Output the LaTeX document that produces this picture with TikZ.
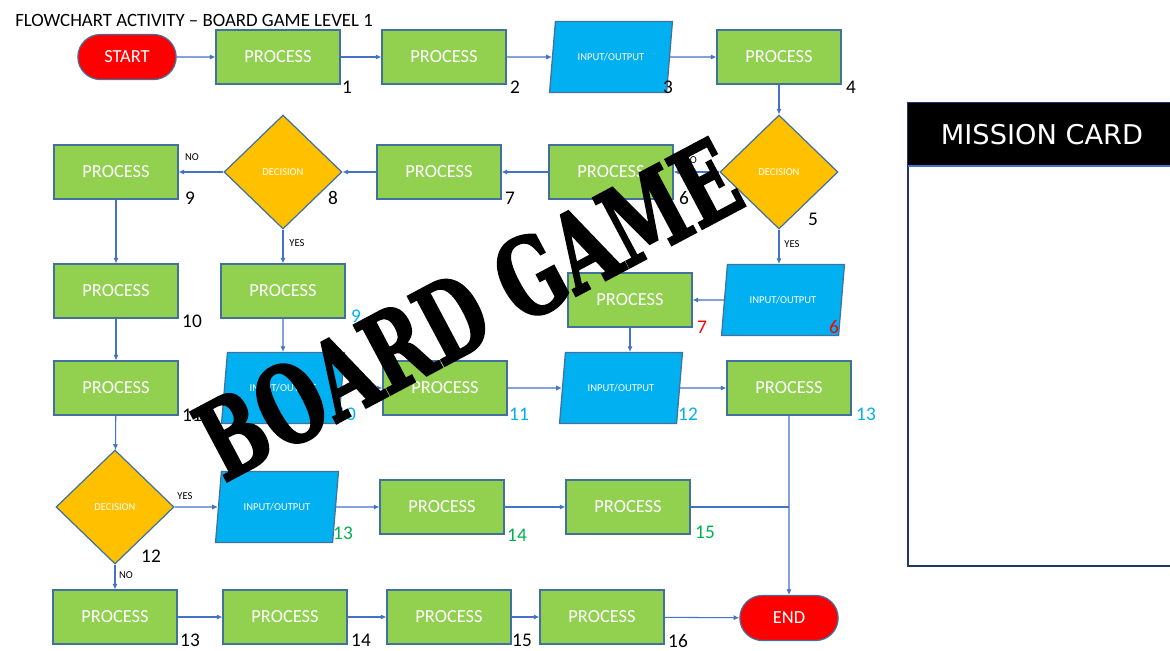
\documentclass[tikz,border=0pt]{standalone}
\usepackage{fontspec}
\setmainfont{Carlito}
\newfontfamily\stampfont[FakeBold=2.5]{DejaVu Serif}
\newfontfamily\cardfont{DejaVu Sans}
\usetikzlibrary{shapes.geometric,shapes.misc,arrows.meta}
\definecolor{ProcessGreen}{HTML}{92D050}
\definecolor{IOBlue}{HTML}{00B0F0}
\definecolor{DecisionGold}{HTML}{FFC000}
\definecolor{TerminalRed}{HTML}{FF0000}
\definecolor{ShapeEdge}{HTML}{41719C}
\definecolor{FlowLine}{HTML}{4472C4}
\definecolor{CardEdge}{HTML}{1F3864}
\definecolor{StepCyan}{HTML}{00B0F0}
\definecolor{StepGreen}{HTML}{00B050}
\definecolor{StepRed}{HTML}{FF0000}

\begin{document}
\begin{tikzpicture}[
    x=0.02cm, y=-0.02cm,
    processbox/.style={rectangle, draw=ShapeEdge, fill=ProcessGreen, line width=0.7pt, minimum width=2.48cm, minimum height=1.08cm, font=\fontsize{10.5}{12}\selectfont, text=white},
    iobox/.style={trapezium, trapezium left angle=78, trapezium right angle=102, trapezium stretches=true, draw=ShapeEdge, fill=IOBlue, line width=0.7pt, minimum width=2.46cm, minimum height=1.42cm, font=\fontsize{6}{7}\selectfont, text=white},
    decisionbox/.style={diamond, draw=ShapeEdge, fill=DecisionGold, line width=0.7pt, minimum width=2.36cm, minimum height=2.28cm, inner sep=0pt, font=\fontsize{6}{7}\selectfont, text=white},
    terminalbox/.style={rounded rectangle, draw=ShapeEdge, fill=TerminalRed, line width=0.7pt, minimum width=2.2cm, minimum height=0.9cm, font=\fontsize{10.5}{12}\selectfont, text=white},
    flowline/.style={draw=FlowLine, line width=0.6pt, -{Latex[length=3.2pt,width=3pt]}},
    plainline/.style={draw=FlowLine, line width=0.6pt},
    stepnum/.style={font=\fontsize{11}{13}\selectfont, text=black, inner sep=0pt},
    branchnote/.style={font=\fontsize{6}{7}\selectfont, text=black, inner sep=0pt},
    cardtitle/.style={font=\cardfont\fontsize{15.5}{17}\selectfont, text=white, inner sep=0pt},
    stamptext/.style={font=\stampfont\bfseries\fontsize{42}{42}\selectfont, text=black, inner sep=0pt, rotate=28}
]

\useasboundingbox (0,0) rectangle (1170,650);
\clip (0,0) rectangle (1170,650);
\fill[white] (0,0) rectangle (1170,650);

\node[anchor=west, font=\fontsize{10.7}{12}\selectfont, inner sep=0pt] (title) at (15,20) {FLOWCHART ACTIVITY – BOARD GAME LEVEL 1};

% row 1
\node[terminalbox] (start) at (127,57) {START};
\node[processbox] (p1) at (278,57) {PROCESS};
\node[processbox] (p2) at (444,57) {PROCESS};
\node[iobox] (io3) at (611,57) {INPUT/OUTPUT};
\node[processbox] (p4) at (779,57) {PROCESS};

% row 2
\node[decisionbox] (d5) at (779,172) {DECISION};
\node[processbox] (p6) at (611,172) {PROCESS};
\node[processbox] (p7) at (439,172) {PROCESS};
\node[decisionbox] (d8) at (283,172) {DECISION};
\node[processbox] (p9) at (116,172) {PROCESS};

% left column
\node[processbox] (p10) at (116,291) {PROCESS};
\node[processbox] (p11) at (116,388) {PROCESS};
\node[decisionbox] (d12) at (115,507) {DECISION};

% red path
\node[iobox] (redio6) at (783,300) {INPUT/OUTPUT};
\node[processbox] (redp7) at (630,300) {PROCESS};

% cyan path
\node[processbox] (cyanp9) at (283,291) {PROCESS};
\node[iobox] (cyanio10) at (283,388) {INPUT/OUTPUT};
\node[processbox] (cyanp11) at (445,388) {PROCESS};
\node[iobox] (cyanio12) at (621,388) {INPUT/OUTPUT};
\node[processbox] (cyanp13) at (789,388) {PROCESS};

% green path
\node[iobox] (greenio13) at (277,507) {INPUT/OUTPUT};
\node[processbox] (greenp14) at (442,507) {PROCESS};
\node[processbox] (greenp15) at (628,507) {PROCESS};

% bottom row
\node[processbox] (p13) at (115,617) {PROCESS};
\node[processbox] (p14) at (285,617) {PROCESS};
\node[processbox] (p15) at (449,617) {PROCESS};
\node[processbox] (p16) at (602,617) {PROCESS};
\node[terminalbox] (finish) at (789,618) {END};

\draw[flowline] (start) -- (p1);
\draw[flowline] (p1) -- (p2);
\draw[flowline] (p2) -- (io3);
\draw[flowline] (io3) -- (p4);
\draw[flowline] (p4) -- (d5);
\draw[flowline] (d5) -- (p6);
\draw[flowline] (p6) -- (p7);
\draw[flowline] (p7) -- (d8);
\draw[flowline] (d8) -- (p9);
\draw[flowline] (d8) -- (cyanp9);
\draw[flowline] (d5.south) -- (d5.south |- redio6.north);
\draw[flowline] (redio6) -- (redp7);
\draw[flowline] (redp7.south) -- (redp7.south |- cyanio12.north);
\draw[flowline] (p9) -- (p10);
\draw[flowline] (p10) -- (p11);
\draw[flowline] (p11) -- (d12);
\draw[flowline] (cyanp9) -- (cyanio10);
\draw[flowline] (cyanio10) -- (cyanp11);
\draw[flowline] (cyanp11) -- (cyanio12);
\draw[flowline] (cyanio12) -- (cyanp13);
\draw[flowline] (cyanp13) -- (finish);
\coordinate (merge) at (cyanp13.south |- greenp15.east);
\draw[plainline] (greenp15) -- (merge);
\draw[flowline] (d12) -- (greenio13);
\draw[flowline] (greenio13) -- (greenp14);
\draw[flowline] (greenp14) -- (greenp15);
\draw[flowline] (d12) -- (p13);
\draw[flowline] (p13) -- (p14);
\draw[flowline] (p14) -- (p15);
\draw[flowline] (p15) -- (p16);
\draw[flowline] (p16) -- (finish);

% branch words
\node[branchnote] (no8) at (192,157) {NO};
\node[branchnote] (yes8) at (297,243) {YES};
\node[branchnote] (no5) at (690,160) {NO};
\node[branchnote] (yes5) at (792,244) {YES};
\node[branchnote] (yes12) at (185,496) {YES};
\node[branchnote] (no12) at (126,575) {NO};

% step numbers
\node[stepnum] (n1) at (347,87) {1};
\node[stepnum] (n2) at (515,87) {2};
\node[stepnum] (n3) at (668,87) {3};
\node[stepnum] (n4) at (851,87) {4};
\node[stepnum] (n5) at (813,219) {5};
\node[stepnum] (n6) at (684,198) {6};
\node[stepnum] (n7) at (510,198) {7};
\node[stepnum] (n8) at (333,198) {8};
\node[stepnum] (n9) at (190,198) {9};
\node[stepnum] (n10) at (192,321) {10};
\node[stepnum] (n11) at (192,415) {11};
\node[stepnum] (n12) at (151,556) {12};
\node[stepnum] (n13) at (190,640) {13};
\node[stepnum] (n14) at (361,640) {14};
\node[stepnum] (n15) at (522,640) {15};
\node[stepnum] (n16) at (678,641) {16};
\node[stepnum, text=StepRed] (r6) at (834,327) {6};
\node[stepnum, text=StepRed] (r7) at (702,327) {7};
\node[stepnum, text=StepCyan] (c9) at (356,316) {9};
\node[stepnum, text=StepCyan] (c10) at (346,414) {10};
\node[stepnum, text=StepCyan] (c11) at (519,414) {11};
\node[stepnum, text=StepCyan] (c12) at (688,414) {12};
\node[stepnum, text=StepCyan] (c13) at (866,414) {13};
\node[stepnum, text=StepGreen] (g13) at (343,533) {13};
\node[stepnum, text=StepGreen] (g14) at (517,535) {14};
\node[stepnum, text=StepGreen] (g15) at (705,532) {15};

% mission card
\draw[draw=CardEdge, line width=1.2pt, fill=white] (908,103) rectangle (1190,566);
\fill[black] (908,103) rectangle (1190,166);
\draw[draw=FlowLine, line width=1pt] (908,166) -- (1190,166);
\node[cardtitle] (cardhead) at (1042,135) {MISSION CARD};

% stamp over the board
\node[stamptext] (stamp) at (468,309) {\scalebox{1}[1.45]{BOARD GAME}};

\end{tikzpicture}
\end{document}
